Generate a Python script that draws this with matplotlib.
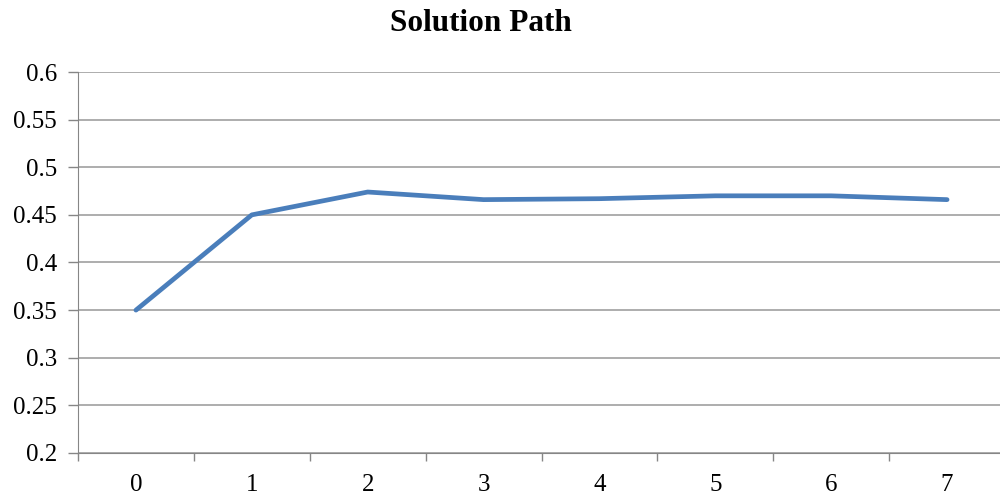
import matplotlib.pyplot as plt

# data
steps = [0, 1, 2, 3, 4, 5, 6, 7]
values = [0.350, 0.450, 0.474, 0.466, 0.467, 0.470, 0.470, 0.466]
y_ticks = [0.2, 0.25, 0.3, 0.35, 0.4, 0.45, 0.5, 0.55, 0.6]
y_labels = ["0.2", "0.25", "0.3", "0.35", "0.4", "0.45", "0.5", "0.55", "0.6"]

plt.rcParams['font.family'] = ['Liberation Serif', 'DejaVu Serif']

fig = plt.figure(figsize=(10, 4.98), dpi=100)
ax = fig.add_axes([0.078, 0.0904, 0.927, 0.765])

ax.plot(steps, values, color='#4A7EBB', linewidth=3.4, solid_capstyle='round')

ax.set_xlim(-0.5, 7.5)
ax.set_ylim(0.2, 0.6)
ax.set_yticks(y_ticks)
ax.set_yticklabels(y_labels)

# category labels centred, tick marks between categories
ax.set_xticks(steps)
ax.set_xticklabels([str(s) for s in steps])
ax.set_xticks([s + 0.5 for s in range(-1, 8)], minor=True)
ax.tick_params(axis='x', which='major', length=0, pad=15, labelsize=18)
ax.tick_params(axis='x', which='minor', length=6, color='#868686', width=1)
ax.tick_params(axis='y', length=7, color='#868686', width=1, labelsize=18, pad=8)

ax.grid(axis='y', color='#A0A0A0', linewidth=1.2)
ax.set_axisbelow(True)
for side in ['top', 'right']:
    ax.spines[side].set_visible(False)
ax.spines['left'].set_color('#868686')
ax.spines['bottom'].set_color('#868686')

fig.text(0.481, 0.953, "Solution Path", ha='center', va='center',
         fontsize=22.5, fontweight='bold')

fig.savefig("out.png", dpi=100)
